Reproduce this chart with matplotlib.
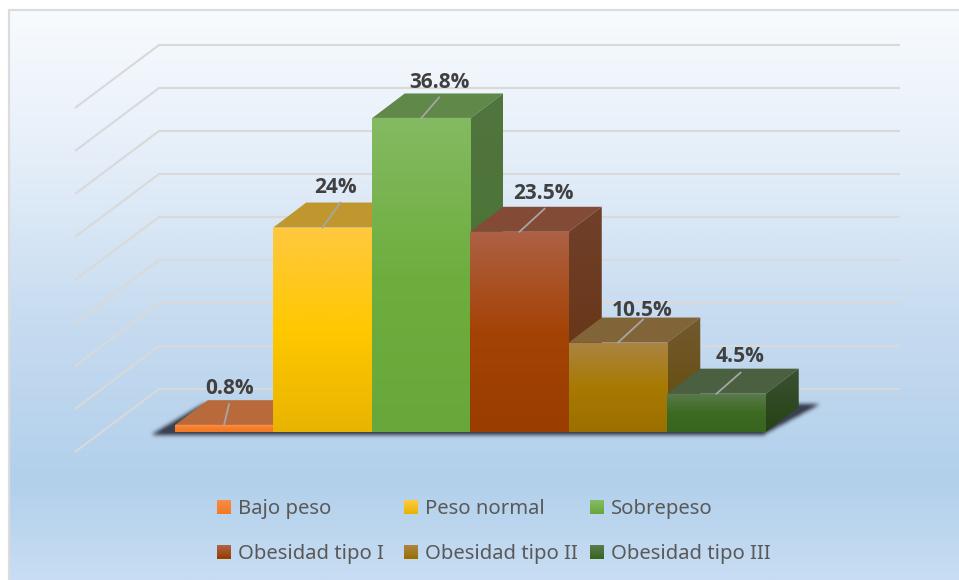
import numpy as np
import matplotlib
matplotlib.use("Agg")
import matplotlib.pyplot as plt
from matplotlib.patches import Polygon, Rectangle
from matplotlib.legend_handler import HandlerBase
from matplotlib.colors import LinearSegmentedColormap

categories = ["Bajo peso", "Peso normal", "Sobrepeso", "Obesidad tipo I", "Obesidad tipo II", "Obesidad tipo III"]
values = [0.8, 24, 36.8, 23.5, 10.5, 4.5]
value_labels = ["0.8%", "24%", "36.8%", "23.5%", "10.5%", "4.5%"]
grid_values = [0, 5, 10, 15, 20, 25, 30, 35, 40]

front_top = ["#F98B45", "#FFC840", "#84BA62", "#AD6145", "#AB8443", "#5A7A4D"]
front_mid = ["#F67C28", "#FFC800", "#6EAE3E", "#A54306", "#A87A02", "#3E6B23"]
front_bot = ["#F47A22", "#E8B400", "#68A73A", "#993D00", "#9C7000", "#38651F"]
side_top = ["#A85C30", "#A88028", "#50753E", "#70402A", "#735A30", "#3D5034"]
side_bot = ["#A85C30", "#A07C10", "#487430", "#64320F", "#644A05", "#244313"]
top_col = ["#B96A3C", "#C0962E", "#608848", "#834A36", "#826439", "#4B6040"]

W, H = 959, 580
PX_X = 98.5          # pixels per category
PX_Y = 8.52          # pixels per percent
X0, Y0 = 224.0, 432.0  # pixel of first category centre / zero line
DX, DY = 33 / PX_X, 25 / PX_Y            # bar depth
WX, WY = 84 / PX_X, 63 / PX_Y            # wall depth
FX, FY = -149 / PX_X, -20 / PX_Y         # wall start relative to first bar centre / zero
GRID_SCALE = 43 / (5 * PX_Y)             # perspective of the back wall
BW = 1.0

fig = plt.figure(figsize=(W / 100, H / 100), dpi=100, facecolor="white")
ax = fig.add_axes([0, 0, 1, 1])
ax.set_xlim(-X0 / PX_X, (W - X0) / PX_X)
ax.set_ylim(-(H - Y0) / PX_Y, Y0 / PX_Y)
ax.axis("off")
ax.set_aspect("auto")


def gradient(stops, extent, clip=None, z=2):
    cmap = LinearSegmentedColormap.from_list("g", stops)
    arr = np.linspace(0, 1, 256)[:, None]
    im = ax.imshow(arr, cmap=cmap, extent=extent, origin="upper", aspect="auto",
                   zorder=z, interpolation="bilinear", vmin=0, vmax=1)
    if clip is not None:
        im.set_clip_path(clip)
    return im


xmin, xmax = ax.get_xlim()
ymin, ymax = ax.get_ylim()

# panel background
bg = LinearSegmentedColormap.from_list(
    "bg", [(0, "#F8FBFE"), (0.25, "#E6EFF9"), (0.55, "#C6DBF0"), (0.83, "#B2D0EB"), (1, "#C8DDF3")])
frame_x0, frame_y1 = xmin + 9 / PX_X, ymax - 10 / PX_Y
frame_y0 = ymin
ax.imshow(np.linspace(0, 1, 512)[:, None], cmap=bg, extent=(frame_x0, xmax, frame_y0, frame_y1),
          origin="upper", aspect="auto", zorder=0)
ax.plot([frame_x0, frame_x0, xmax], [frame_y0, frame_y1, frame_y1], color="#DCDCDC", lw=1.6, zorder=1)

# walls
wall_left = FX
for g in grid_values:
    y0 = g * GRID_SCALE + FY
    ax.plot([wall_left, wall_left + WX, xmax - 59 / PX_X], [y0, y0 + WY, y0 + WY],
            color="#D9D9D9", lw=1.5, zorder=1, solid_joinstyle="miter", solid_capstyle="butt")

# blurred floor shadow
n = len(values)
gx = np.linspace(xmin, xmax, W)
gy = np.linspace(ymax, ymin, H)
xx, yy = np.meshgrid(gx, gy)
t = np.clip((yy + 0.2) / (DY + 0.5), 0, 1)
inside = (yy > -0.35) & (yy < DY + 0.35) & (xx > -0.72 + t * 0.5) & (xx < n - 0.5 + t * 0.55)
mask = inside.astype(float)
for axis in (0, 1):
    for _ in range(6):
        mask = (np.roll(mask, 1, axis) + mask + np.roll(mask, -1, axis)) / 3
rgba = np.zeros((H, W, 4))
rgba[..., :3] = matplotlib.colors.to_rgb("#3A4250")
rgba[..., 3] = np.clip(mask * 1.1, 0, 1)
ax.imshow(rgba, extent=(xmin, xmax, ymin, ymax), origin="upper", aspect="auto", zorder=1.5)

# bars
for i, v in enumerate(values):
    l, r = i - BW / 2, i + BW / 2
    z = 2 + i * 0.1
    top = Polygon([(l, v), (r, v), (r + DX, v + DY), (l + DX, v + DY)], closed=True,
                  fc=top_col[i], ec="none", zorder=z)
    ax.add_patch(top)
    side = Polygon([(r, 0), (r + DX, DY), (r + DX, v + DY), (r, v)], closed=True, fc="none", ec="none", zorder=z)
    ax.add_patch(side)
    gradient([side_top[i], side_bot[i]], (r, r + DX, 0, v + DY), clip=side, z=z)
    front = Rectangle((l, 0), BW, v, fc="none", ec="none", zorder=z + 0.01)
    ax.add_patch(front)
    gradient([front_top[i], front_mid[i], front_bot[i]], (l, r, 0, v), clip=front, z=z + 0.01)
    ax.plot([l, r], [v, v], color=front_top[i], lw=1.0, zorder=z + 0.02, solid_capstyle="butt")

# labels with leader lines
label_dx = [6, 13, 18, 24, 24, 24]
label_dy = [37, 40, 36, 38, 32, 37]
lead_x = [5, 18, 18, 25, 25, 24]
lead_y = [21, 25, 21, 23, 23, 21]
for i, v in enumerate(values):
    ax.plot([i, i + lead_x[i] / PX_X], [v, v + lead_y[i] / PX_Y], color="#A6A6A6", lw=1.3, zorder=4)
    ax.text(i + label_dx[i] / PX_X, v + label_dy[i] / PX_Y, value_labels[i],
            ha="center", va="center", fontsize=15, fontweight="bold", family="Open Sans",
            color="#404040", zorder=5)


class GradHandler(HandlerBase):
    def __init__(self, c1, c2):
        super().__init__()
        self.c1, self.c2 = np.array(matplotlib.colors.to_rgb(c1)), np.array(matplotlib.colors.to_rgb(c2))

    def create_artists(self, legend, orig, xd, yd, width, height, fontsize, trans):
        s = width
        arts = []
        steps = 14
        for k in range(steps):
            c = self.c1 + (self.c2 - self.c1) * k / (steps - 1)
            arts.append(Rectangle((-xd, -yd + height / 2 + s / 2 - (k + 1) * s / steps),
                                  s, s / steps + 0.1, fc=c, ec="none", transform=trans))
        return arts


# one native legend per column, row order as in the reference
col_px = [217, 404, 590]
for c, x in enumerate(col_px):
    idx = [c, c + 3]
    handles = [Rectangle((0, 0), 1, 1) for _ in idx]
    hmap = {h: GradHandler(front_top[j], front_bot[j]) for h, j in zip(handles, idx)}
    leg = ax.legend(handles, [categories[j] for j in idx], handler_map=hmap, ncols=1, frameon=False,
                    loc="center left", bbox_to_anchor=(x / W, 1 - 531.5 / H),
                    prop={"family": "Noto Sans", "size": 14.6}, labelcolor="#595959",
                    handlelength=0.685, handletextpad=0.34, labelspacing=1.21,
                    borderpad=0, borderaxespad=0)
    leg.set_zorder(6)
    if c < len(col_px) - 1:
        ax.add_artist(leg)

fig.savefig("out.png", dpi=100)
